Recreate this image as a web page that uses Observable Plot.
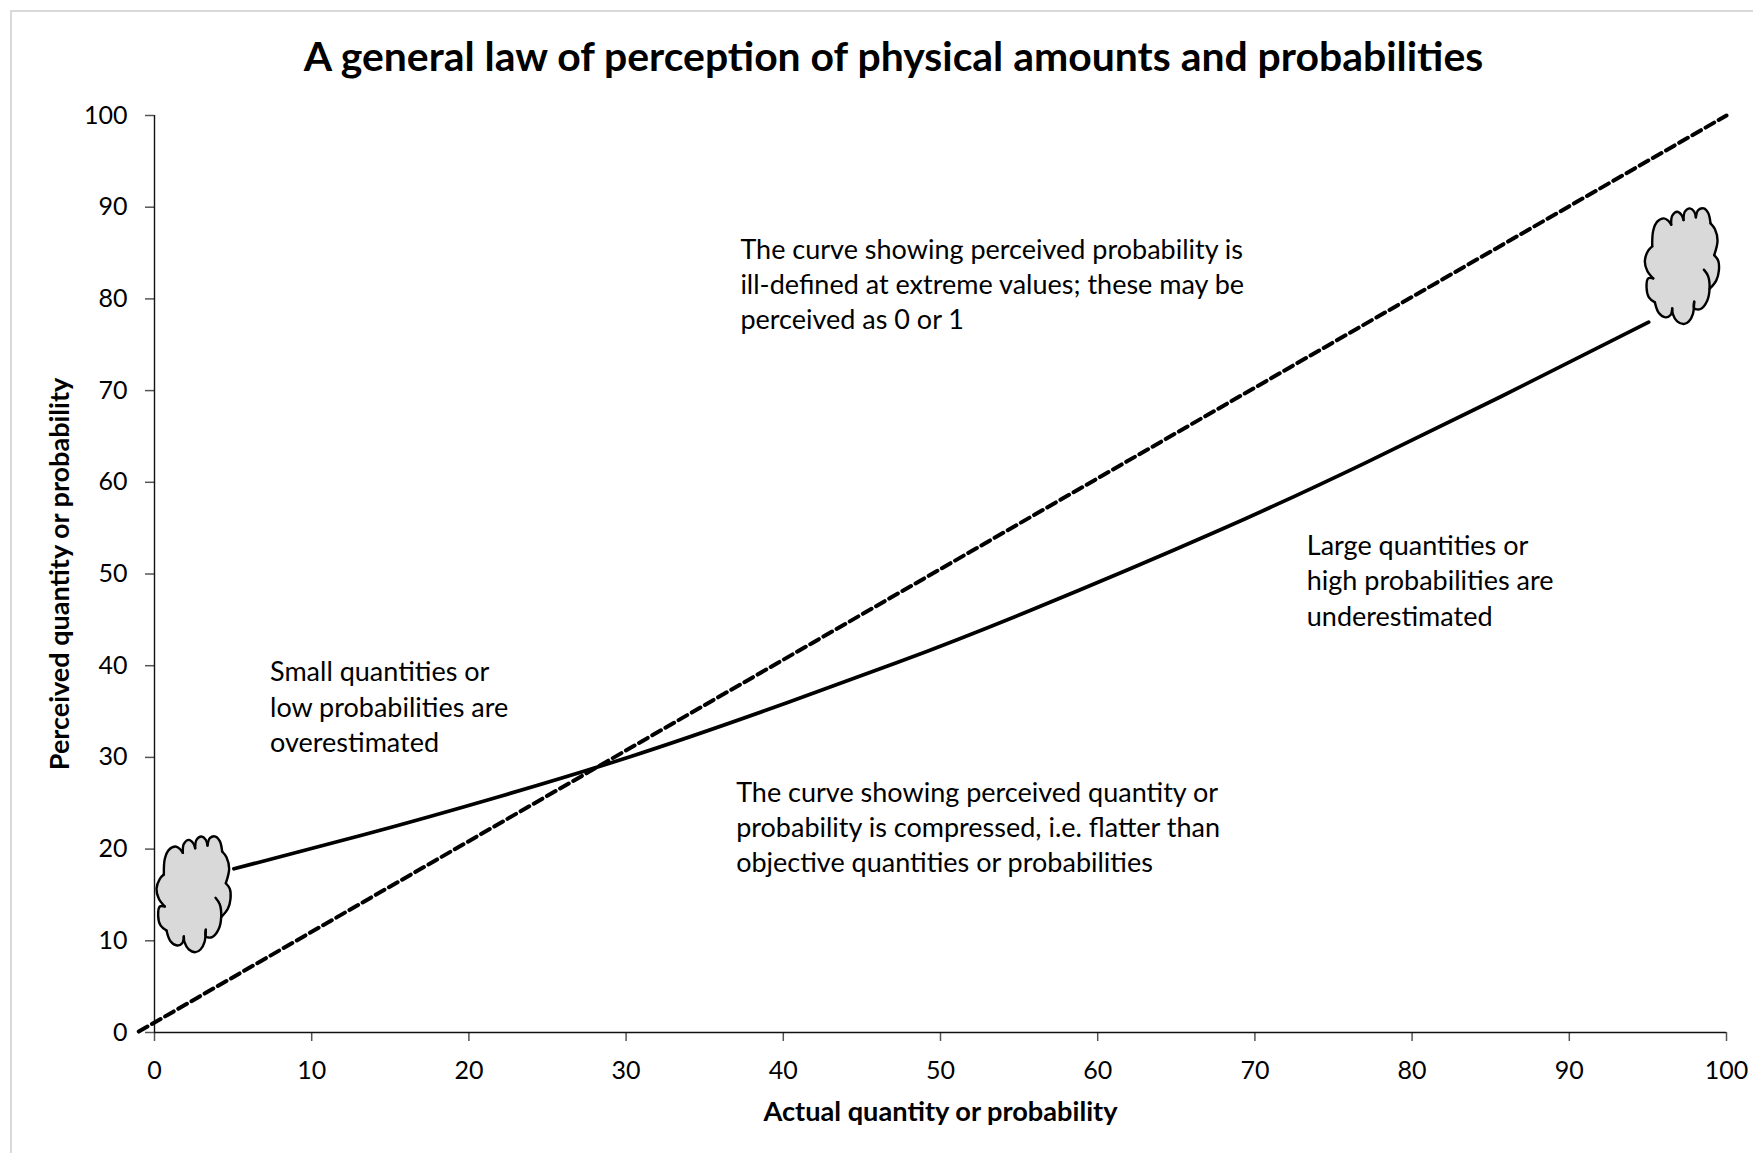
<!DOCTYPE html>
<html>
<head>
<meta charset="utf-8">
<script src="https://cdn.jsdelivr.net/npm/d3@7"></script>
<script src="https://cdn.jsdelivr.net/npm/@observablehq/plot@0.6"></script>
<style>
html,body{margin:0;padding:0;background:#fff;}
#wrap{position:relative;width:1753px;height:1153px;overflow:hidden;}
#frame{position:absolute;left:10px;top:10px;width:1800px;height:1200px;border:2px solid #d9d9d9;box-sizing:border-box;}
#title{position:absolute;left:0;top:0;width:1787px;height:90px;text-align:center;font:700 40.9px/112px Lato,sans-serif;color:#000;white-space:nowrap;}
#chart{position:absolute;left:0;top:90px;}
</style>
</head>
<body>
<div id="wrap"><div id="frame"></div><div id="title">A general law of perception of physical amounts and probabilities</div><div id="chart"></div></div>
<script>
const xLabel = "Actual quantity or probability";
const yLabel = "Perceived quantity or probability";
const ticks = [0,10,20,30,40,50,60,70,80,90,100];

const curveX = [5.05,13.3,21.8,30.3,38.8,47.2,55.7,67.7,77,85.6,95.05];
const curveY = [17.85,21.56,25.66,30.10,35.08,40.31,46.02,54.74,62.1,69.3,77.46];
const diagX = [-1,100];
const diagY = [0.1,100];

const notes = [
  {x:37.27,y:81.6,t:"The curve showing perceived probability is\nill-defined at extreme values; these may be\nperceived as 0 or 1"},
  {x:73.3,y:49.3,t:"Large quantities or\nhigh probabilities are\nunderestimated"},
  {x:7.35,y:35.5,t:"Small quantities or\nlow probabilities are\noverestimated"},
  {x:37.0,y:22.4,t:"The curve showing perceived quantity or\nprobability is compressed, i.e. flatter than\nobjective quantities or probabilities"}
];

// Scalloped lobes of the lower-left cloud, in axis units
const lobes = [
  [[.594,17.23],[.657,18.94],[.912,19.92],[1.336,20.28],[1.612,20.03],[1.802,19.59]],
  [[1.802,19.59],[1.866,20.57],[2.184,21.01],[2.460,20.65],[2.587,20.10]],
  [[2.587,20.10],[2.672,21.01],[2.990,21.37],[3.265,21.01],[3.372,20.39]],
  [[3.372,20.39],[3.520,21.19],[3.880,21.37],[4.156,20.87],[4.305,19.74]],
  [[4.305,19.74],[4.580,19.12],[4.750,17.85],[4.538,16.28]],
  [[4.538,16.28],[4.792,15.67],[4.835,14.58],[4.665,13.49],[4.241,12.58]],
  [[3.880,14.69],[4.156,13.96],[4.241,12.58],[4.092,11.31],[3.668,10.40],[3.265,10.47],[3.265,11.20]],
  [[3.265,11.20],[3.181,9.85],[2.926,9.05],[2.608,8.76],[2.184,9.05],[1.908,9.85],[1.866,10.47]],
  [[1.866,10.47],[1.760,9.74],[1.442,9.49],[1.018,9.96],[.763,11.12]],
  [[.763,11.12],[.382,11.67],[.233,12.76],[.339,13.74],[.657,13.74]],
  [[.657,13.74],[.276,14.58],[.127,15.67],[.339,16.76],[.594,17.23]]
];
const cloudOffsets = [{id:"low",dx:0,dy:0},{id:"high",dx:94.68,dy:68.5}];

const strokeRows = [], fillRows = [];
for (const c of cloudOffsets) {
  lobes.forEach((l,i)=>{
    l.forEach(p=>strokeRows.push({x:p[0]+c.dx,y:p[1]+c.dy,z:c.id+i}));
    if (i!==6) l.forEach(p=>fillRows.push({x:p[0]+c.dx,y:p[1]+c.dy,z:c.id}));
    else l.slice(3,6).forEach(p=>fillRows.push({x:p[0]+c.dx,y:p[1]+c.dy,z:c.id}));
  });
}

const fam = "Lato, sans-serif";
const chart = Plot.plot({
  width:1753, height:1063,
  marginLeft:154, marginRight:27, marginTop:25, marginBottom:121,
  style:{background:"transparent",fontFamily:fam,color:"#000"},
  x:{domain:[0,100],axis:null},
  y:{domain:[0,100],axis:null},
  marks:[
    Plot.axisX(ticks,{anchor:"bottom",tickSize:9,tickPadding:20,tickFormat:d=>d,fontSize:25,label:null,stroke:"#555",strokeWidth:1.5,fill:"#000"}),
    Plot.axisY(ticks,{anchor:"left",tickSize:9,tickPadding:18,tickFormat:d=>d,fontSize:25,label:null,stroke:"#555",strokeWidth:1.5,fill:"#000"}),
    Plot.ruleX([0],{stroke:"#111",strokeWidth:1.4}),
    Plot.ruleY([0],{stroke:"#111",strokeWidth:1.4}),
    Plot.line(diagX.map((x,i)=>({x,y:diagY[i]})),{x:"x",y:"y",stroke:"#000",strokeWidth:4,strokeDasharray:"10,5.2"}),
    Plot.line(curveX.map((x,i)=>({x,y:curveY[i]})),{x:"x",y:"y",stroke:"#000",strokeWidth:3.7,curve:"natural"}),
    Plot.line(fillRows,{x:"x",y:"y",z:"z",fill:"#d9d9d9",stroke:"none"}),
    Plot.line(strokeRows,{x:"x",y:"y",z:"z",stroke:"#000",strokeWidth:2.4,curve:"catmull-rom"}),
    Plot.text(notes,{x:"x",y:"y",dy:-1.5,text:"t",textAnchor:"start",lineAnchor:"middle",lineHeight:1.31,fontSize:27,fill:"#000"}),
    Plot.text([xLabel],{frameAnchor:"bottom",dy:88,x:50,text:d=>d,fontSize:27.2,fontWeight:700,fill:"#000"}),
    Plot.text([yLabel],{frameAnchor:"left",dx:-94,y:50,text:d=>d,textAnchor:"middle",rotate:-90,fontSize:27,fontWeight:700,fill:"#000"})
  ]
});
document.getElementById("chart").appendChild(chart);
</script>
</body>
</html>
